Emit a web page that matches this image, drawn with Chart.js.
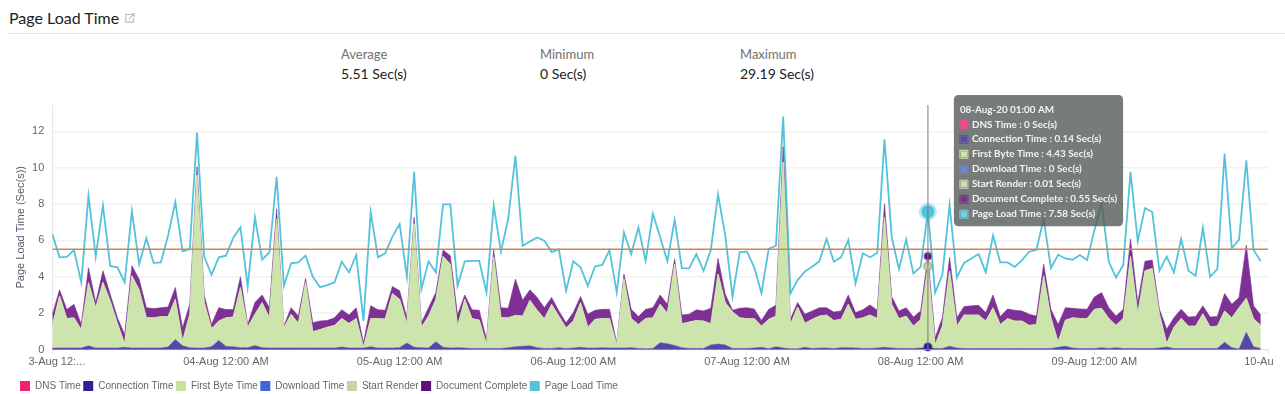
<!DOCTYPE html>
<html>
<head>
    <title>Page Load Time</title>
    <script src="https://cdn.jsdelivr.net/npm/chart.js"></script>
    <style>
        html, body { margin: 0; padding: 0; background: #fff; overflow: hidden; }
        body { width: 1285px; height: 394px; position: relative; font-family: Lato, sans-serif; }
        #heading { position: absolute; left: 9px; top: 8px; font-size: 16px; line-height: 20px; color: #222; }
        #heading svg { position: absolute; left: 116px; top: 5px; }
        #rule { position: absolute; left: 9px; right: 0; top: 33px; height: 1px; background: #e4e4e4; }
        .stat { position: absolute; top: 46px; }
        .stat .name { font-size: 13px; line-height: 16px; color: #6f6f6f; }
        .stat .value { font-size: 14px; line-height: 20px; margin-top: 2px; color: #222; }
        #chart-wrap { position: absolute; left: 0; top: 0; width: 1285px; height: 394px; }
    </style>
</head>
<body>
    <div id="heading">Page Load Time
        <svg width="10" height="10" viewBox="0 0 10 10" fill="none" stroke="#bdbdbd" stroke-width="1.2">
            <path d="M6 1.5H0.8V9.2H8.5V5"/><path d="M4 6L9 1M6 0.8H9.2V4"/>
        </svg>
    </div>
    <div id="rule"></div>
    <div class="stat" style="left:341px"><div class="name">Average</div><div class="value">5.51 Sec(s)</div></div>
    <div class="stat" style="left:540px"><div class="name">Minimum</div><div class="value">0 Sec(s)</div></div>
    <div class="stat" style="left:740px"><div class="name">Maximum</div><div class="value">29.19 Sec(s)</div></div>
    <div id="chart-wrap"><canvas id="loadChart" width="1285" height="394"></canvas></div>
    <script>
        // hourly samples, 03-Aug 12:00 AM to 09-Aug 11:00 PM
        const dnsTime = [
            0,0,0,0,0,0,0,0,0,0,0,0,0,0,0,0,0,0,0,0,0,0,0,0,
            0,0,0,0,0,0,0,0,0,0,0,0,0,0,0,0,0,0,0,0,0,0,0,0,
            0,0,0,0,0,0,0,0,0,0,0,0,0,0,0,0,0,0,0,0,0,0,0,0,
            0,0,0,0,0,0,0,0,0,0,0,0,0,0,0,0,0,0,0,0,0,0,0,0,
            0,0,0,0,0,0,0,0,0,0,0,0,0,0,0,0,0,0,0,0,0,0,0,0,
            0,0,0,0,0,0,0,0,0,0,0,0,0,0,0,0,0,0,0,0,0,0,0,0,
            0,0,0,0,0,0,0,0,0,0,0,0,0,0,0,0,0,0,0,0,0,0,0,0
        ];
        const connectionTime = [
            .08,.08,.08,.08,.08,.2,.08,.08,.08,.08,.12,.08,.08,.08,.08,.08,.14,.55,.2,.1,.08,.08,.15,.5,
            .17,.15,.1,.1,.22,.1,.08,.08,.08,.08,.08,.08,.08,.08,.08,.08,.14,.08,.08,.08,.15,.08,.08,.08,
            .1,.36,.12,.1,.08,.42,.12,.08,.1,.08,.06,.06,.06,.06,.06,.1,.15,.18,.2,.1,.06,.06,.1,.06,
            .08,.12,.08,.08,.1,.08,.08,.08,.1,.06,.04,.06,.37,.32,.22,.1,.06,.06,.06,.25,.3,.25,.06,.06,
            .06,.08,.12,.04,.15,.08,.04,.04,.12,.05,.08,.08,.05,.1,.1,.08,.06,.06,.08,.12,.08,.06,.06,.06,
            .08,.14,.06,.06,.18,.08,.05,.05,.05,.06,.05,.05,.05,.05,.05,.05,.05,.05,.06,.12,.18,.08,.05,.05,
            .05,.1,.06,.1,.05,.06,.06,.05,.05,.08,.14,.05,.05,.05,.05,.06,.05,.06,.4,.1,.03,.95,.15,.06
        ];
        const firstByteTime = [
            1.21,2.86,1.62,1.66,1.01,3.48,2.21,3.6,2.58,1.35,.18,3.97,3.19,1.66,1.66,1.72,1.66,2.2,.25,1.83,9.5,2.49,1,1.06,
            1.57,1.63,3.3,1.12,1.71,2.47,1.66,7.1,1.11,1.85,1.35,3.6,.89,1.01,1.14,1.24,1.56,1.35,1.62,.04,1.54,1.62,1.59,2.99,
            2.65,1.05,6.78,1.12,1.75,2.33,4.99,4.61,1.18,2.67,1.63,1.55,.21,5,1.68,1.64,1.72,1.65,2.5,2.05,1.63,2.42,1.73,1.13,
            1.48,2.45,1.14,1.57,1.6,1.62,.15,3.78,1.6,1.31,1.66,1.68,2.11,1.66,4.47,1.31,1.44,1.53,1.5,1.16,3.84,2.32,2.01,1.68,
            1.63,1.61,1.16,1.61,1.68,10.23,1.33,2.29,1.31,1.6,1.75,1.81,1.54,1.55,2.38,1.57,1.68,1.83,1.62,7.15,2.4,1.63,1.77,1.22,
            1.57,4.43,.17,1.22,4.14,1.2,1.84,1.84,1.84,1.5,2.24,1.32,1.64,1.51,1.51,1.27,1.32,4,1.68,.29,1.43,1.66,1.65,1.64,
            2.15,2.16,1.64,1.22,1.65,5.05,1.9,4.27,4.4,1.85,.18,1.17,1.65,1.23,1.23,1.9,1.19,1.22,1.71,1.64,2.26,1.86,1.54,1.26
        ];
        const downloadTime = [
            0,0,0,0,0,0,0,0,0,0,0,0,0,0,0,0,0,0,0,0,0,0,0,0,
            0,0,0,0,0,0,0,0,0,0,0,0,0,0,0,0,0,0,0,0,0,0,0,0,
            0,0,0,0,0,0,0,0,0,0,0,0,0,0,0,0,0,0,0,0,0,0,0,0,
            0,0,0,0,0,0,0,0,0,0,0,0,0,0,0,0,0,0,0,0,0,0,0,0,
            0,0,0,0,0,0,0,0,0,0,0,0,0,0,0,0,0,0,0,0,0,0,0,0,
            0,0,0,0,0,0,0,0,0,0,0,0,0,0,0,0,0,0,0,0,0,0,0,0,
            0,0,0,0,0,0,0,0,0,0,0,0,0,0,0,0,0,0,0,0,0,0,0,0
        ];
        const startRender = [
            .01,.01,.01,.01,.01,.01,.01,.01,.01,.01,.01,.01,.01,.01,.01,.01,.01,.01,.01,.01,.01,.01,.01,.01,
            .01,.01,.01,.01,.01,.01,.01,.01,.01,.01,.01,.01,.01,.01,.01,.01,.01,.01,.01,.01,.01,.01,.01,.01,
            .01,.01,.01,.01,.01,.01,.01,.01,.01,.01,.01,.01,.01,.01,.01,.01,.01,.01,.01,.01,.01,.01,.01,.01,
            .01,.01,.01,.01,.01,.01,.01,.01,.01,.01,.01,.01,.01,.01,.01,.01,.01,.01,.01,.01,.01,.01,.01,.01,
            .01,.01,.01,.01,.01,.01,.01,.01,.01,.01,.01,.01,.01,.01,.01,.01,.01,.01,.01,.01,.01,.01,.01,.01,
            .01,.01,.01,.01,.01,.01,.01,.01,.01,.01,.01,.01,.01,.01,.01,.01,.01,.01,.01,.01,.01,.01,.01,.01,
            .01,.01,.01,.01,.01,.01,.01,.01,.01,.01,.01,.01,.01,.01,.01,.01,.01,.01,.01,.01,.01,.01,.01,.01
        ];
        const documentComplete = [
            .6,.33,.49,.74,.28,.81,.28,.64,.37,.31,.52,.55,.59,.55,.5,.49,.53,.65,.74,.55,.46,.42,.22,.73,
            .45,.41,.59,.15,.64,.42,.55,.55,.09,.36,.4,.22,.49,.47,.37,.42,.48,.46,.59,.24,.71,.48,.48,.39,
            .47,.33,.37,.24,.46,.37,.35,.46,.61,.24,.48,.54,.27,.4,.55,.52,1.99,.87,.57,.7,.6,.37,.28,.27,
            .46,.33,.71,.5,.5,.5,.13,.28,.5,.43,.5,.55,.51,.5,.28,.48,.43,.58,.55,.85,.86,.46,.08,.52,
            .6,.53,.31,.55,.59,.83,.28,.24,.5,.46,.46,.4,.46,.46,.51,.37,.43,.55,.45,.74,.42,.42,.46,.5,
            .46,.55,.41,.46,.74,.46,.46,.5,.53,.46,.7,.43,.53,.59,.55,.61,.46,.64,.46,.96,.68,.52,.52,.51,
            .68,.86,.59,.51,.5,.96,.61,.52,.46,.27,.78,.52,.5,.5,.52,.43,.54,.52,.96,.74,.56,2.93,.7,.57
        ];
        const pageLoadTime = [
            6.36,5.07,5.1,5.47,3.69,8.46,5.12,7.93,4.6,4.52,3.7,7.61,4.7,6.12,4.77,4.79,6.27,8.11,5.4,5.53,11.93,5.1,4.11,5.07,
            5.16,6.14,6.73,3.47,7.28,4.94,5.35,9.5,3.5,4.74,4.79,5.16,4,3.43,3.54,3.69,4.83,4.24,5.2,1.57,7.56,5.07,5.29,6.21,
            6.9,4,9.77,3.32,4.85,4.24,7.98,7.98,3.5,4.85,4.88,4.88,3.13,7.93,5.38,7.19,10.65,5.71,5.94,6.16,5.99,5.36,5.51,3.23,
            4.85,4.52,3.5,4.57,4.65,5.47,3.13,6.45,5.25,6.71,4.88,7.47,6.18,4.85,7.13,4.48,4.46,5.25,4.33,5.47,8.53,6.27,2.91,5.36,
            5.38,4.52,3.1,5.53,5.71,12.81,3.08,3.82,4.29,4.55,4.85,6.08,4.83,5.07,6.03,3.63,5.29,5.07,5.31,11.56,6.18,4.42,6.05,4.18,
            4.55,7.58,3.13,4.11,7.96,3.96,4.76,5.01,5.25,4.24,6.27,4.79,4.79,4.55,4.92,5.38,5.47,7.19,4.48,5.22,5.01,4.94,5.2,4.92,
            6.54,8.1,4.83,3.96,4.65,9.77,5.95,7.78,7.56,4.33,5.11,4.24,6.08,4.33,4.06,6.69,4,4.42,10.78,5.57,6.05,10.41,5.47,4.85
        ];
        const averageLoad = [{ x: 0, y: 5.51 }, { x: 168, y: 5.51 }];

        const axisLabels = ['   3-Aug 12:...', '04-Aug 12:00 AM', '05-Aug 12:00 AM', '06-Aug 12:00 AM',
            '07-Aug 12:00 AM', '08-Aug 12:00 AM', '09-Aug 12:00 AM', '10-Au      '];
        const hours = pageLoadTime.map((v, i) => i);

        const hoverIndex = 121;
        const hoverTitle = '08-Aug-20 01:00 AM';

        const series = [
            { label: 'DNS Time', data: dnsTime, swatch: '#f5206f', tip: '#f9468f', fill: '#f5206f', line: '#8a80b8', dot: '#f5206f', halo: '#f5206f40' },
            { label: 'Connection Time', data: connectionTime, swatch: '#2e1f9a', tip: '#5a4ab0', fill: '#5447aa', line: '#5447aa', dot: '#2e1f9a', halo: '#2e1f9a40' },
            { label: 'First Byte Time', data: firstByteTime, swatch: '#c8e29b', tip: '#cde8a8', fill: '#cde5ad', line: '#cde5ad', dot: '#c8e29b', halo: '#c8e29b40' },
            { label: 'Download Time', data: downloadTime, swatch: '#3f66d6', tip: '#6a86dd', fill: '#cde5ad', line: '#cde5ad', dot: '#3f66d6', halo: '#3f66d640' },
            { label: 'Start Render', data: startRender, swatch: '#c3d6a4', tip: '#cfdfb5', fill: '#cde5ad', line: '#cde5ad', dot: '#c3d3a8', halo: '#8f9a7c80' },
            { label: 'Document Complete', data: documentComplete, swatch: '#5f0f7a', tip: '#7e3094', fill: '#7e3094', line: 'rgba(126,48,148,0.6)', dot: '#5f0f7a', halo: '#b79cc480' }
        ];

        const datasets = series.map((s, i) => ({
            label: s.label,
            data: s.data,
            stack: 'timings',
            fill: i === 0 ? 'origin' : '-1',
            clip: false,
            tension: 0,
            backgroundColor: s.fill,
            borderColor: s.line,
            borderWidth: i === 5 || i === 0 ? 1 : 0.5,
            borderJoinStyle: 'bevel',
            pointRadius: 0,
            pointHoverRadius: i === 0 || i === 2 || i === 3 ? 0 : 4,
            pointHoverBorderWidth: 2,
            pointHoverBackgroundColor: s.dot,
            pointHoverBorderColor: s.halo
        }));
        datasets.push({
            label: 'Page Load Time',
            data: pageLoadTime,
            stack: 'page',
            fill: false,
            tension: 0,
            backgroundColor: '#52c3db',
            borderColor: '#52c3db',
            borderWidth: 1.8,
            pointRadius: 0,
            pointHoverRadius: 6.5,
            pointHoverBorderWidth: 5,
            pointHoverBackgroundColor: '#52c3db',
            pointHoverBorderColor: '#52c3db66'
        });
        datasets.push({
            label: 'Average',
            data: averageLoad,
            stack: 'average',
            order: -1,
            fill: false,
            borderColor: '#e0814d',
            borderWidth: 1.5,
            pointRadius: 0,
            pointHoverRadius: 0
        });
        const legendColors = series.map(s => s.swatch).concat('#52c3db');
        const tipColors = series.map(s => s.tip).concat('#74d0e3');

        Chart.Tooltip.positioners.besideHover = function () {
            const px = this.chart.scales.x.getPixelForValue(hoverIndex);
            return { x: px + 31, y: 95 };
        };

        const crosshair = {
            id: 'crosshair',
            afterDatasetsDraw(chart) {
                const { ctx, chartArea, scales } = chart;
                const px = scales.x.getPixelForValue(hoverIndex);
                ctx.save();
                ctx.strokeStyle = 'rgba(120,120,120,0.65)';
                ctx.lineWidth = 1.5;
                ctx.beginPath();
                ctx.moveTo(px, chartArea.top);
                ctx.lineTo(px, chartArea.bottom);
                ctx.stroke();
                ctx.restore();
            },
            afterLayout(chart) {
                chart.legend.left = 17.5;
                chart.legend.top += 7;
            }
        };

        const axisFont = '"Liberation Sans", Arial, sans-serif';

        const chart = new Chart(document.getElementById('loadChart'), {
            type: 'line',
            data: { labels: hours, datasets: datasets },
            plugins: [crosshair],
            options: {
                responsive: false,
                animation: false,
                layout: { padding: { left: 14, right: 17, top: 105, bottom: 0 } },
                interaction: { mode: 'index', intersect: false },
                scales: {
                    x: {
                        type: 'linear',
                        min: 0,
                        max: 168,
                        afterFit(scale) {
                            scale.height = 22;
                            scale.paddingLeft = 0;
                            scale.paddingRight = 0;
                        },
                        grid: { drawOnChartArea: false, color: '#e6e6e6', tickLength: 5 },
                        border: { color: '#e6e6e6' },
                        ticks: {
                            stepSize: 24,
                            autoSkip: false,
                            maxRotation: 0,
                            padding: 1,
                            color: '#666',
                            font: { family: axisFont, size: 11 },
                            callback: v => axisLabels[v / 24]
                        }
                    },
                    y: {
                        stacked: true,
                        min: 0,
                        max: 13.45,
                        afterFit(scale) { scale.width = 38.3; },
                        title: {
                            display: true,
                            text: 'Page Load Time (Sec(s))',
                            color: '#55606b',
                            padding: 0,
                            font: { family: axisFont, size: 11 }
                        },
                        grid: { color: '#f2f2f2', lineWidth: 1.5, tickLength: 0 },
                        border: { color: '#e6e6e6' },
                        ticks: {
                            stepSize: 2,
                            includeBounds: false,
                            padding: 8,
                            color: '#666',
                            font: { family: axisFont, size: 11 }
                        }
                    }
                },
                plugins: {
                    legend: {
                        position: 'bottom',
                        align: 'start',
                        labels: {
                            boxWidth: 10,
                            boxHeight: 10,
                            padding: 2.5,
                            color: '#666',
                            font: { family: axisFont, size: 10 },
                            generateLabels(c) {
                                return legendColors.map((color, i) => ({
                                    text: c.data.datasets[i].label,
                                    fillStyle: color,
                                    strokeStyle: color,
                                    lineWidth: 0,
                                    fontColor: '#666',
                                    datasetIndex: i
                                }));
                            }
                        }
                    },
                    tooltip: {
                        position: 'besideHover',
                        xAlign: 'left',
                        yAlign: 'top',
                        caretSize: 0,
                        caretPadding: 0,
                        cornerRadius: 5,
                        padding: { left: 6, right: 6, top: 8.5, bottom: 6 },
                        backgroundColor: 'rgba(85,90,88,0.8)',
                        titleColor: '#f4f4f4',
                        bodyColor: '#f4f4f4',
                        titleFont: { family: 'Lato, sans-serif', size: 9.9, weight: 'bold' },
                        bodyFont: { family: 'Lato, sans-serif', size: 9.9, weight: 'bold' },
                        titleMarginBottom: 3,
                        bodySpacing: 3.1,
                        boxWidth: 8,
                        boxHeight: 8,
                        boxPadding: 2,
                        multiKeyBackground: 'transparent',
                        filter: item => item.datasetIndex < 7,
                        callbacks: {
                            title: () => hoverTitle,
                            label: item => item.dataset.label + ' : ' + item.raw + ' Sec(s)',
                            labelColor: item => ({
                                borderColor: tipColors[item.datasetIndex],
                                backgroundColor: tipColors[item.datasetIndex],
                                borderWidth: 0
                            })
                        }
                    }
                }
            }
        });

        const active = datasets.slice(0, 7).map((d, i) => ({ datasetIndex: i, index: hoverIndex }));
        chart.setActiveElements(active);
        chart.tooltip.setActiveElements(active, { x: 0, y: 0 });
        chart.update();
    </script>
</body>
</html>
